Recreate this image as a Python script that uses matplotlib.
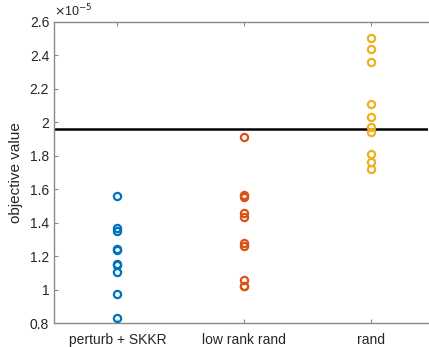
import numpy as np
import matplotlib.pyplot as plt

plt.rcParams['font.family'] = ['Liberation Sans', 'DejaVu Sans']

categories = ['perturb + SKKR', 'low rank rand', 'rand']
perturb_skkr = [1.559, 1.366, 1.352, 1.242, 1.236, 1.153, 1.150, 1.105, 0.975, 0.828]
low_rank_rand = [1.914, 1.565, 1.552, 1.458, 1.436, 1.276, 1.260, 1.057, 1.019, 1.019]
rand_vals = [2.502, 2.439, 2.361, 2.110, 2.034, 1.972, 1.942, 1.811, 1.761, 1.721]
reference_value = 1.96
yticks = [0.8, 1, 1.2, 1.4, 1.6, 1.8, 2, 2.2, 2.4, 2.6]
colors = ['#0072BD', '#D95319', '#EDB120']

fig = plt.figure(figsize=(4.29, 3.47), dpi=100)
ax = fig.add_axes([0.126, 0.069, 0.872, 0.8676])

for i, vals in enumerate([perturb_skkr, low_rank_rand, rand_vals]):
    ax.plot([i + 1] * len(vals), vals, 'o', mfc='none', mec=colors[i],
            mew=1.6, ms=5.2, zorder=3)

ax.axhline(reference_value, color='black', lw=1.8, zorder=2)

ax.set_xlim(0.5, 3.45)
ax.set_ylim(0.8, 2.6)
ax.set_xticks([1, 2, 3])
ax.set_xticklabels(categories)
ax.set_yticks(yticks)
ax.set_yticklabels(['%g' % t for t in yticks])
ax.set_ylabel('objective value', fontsize=11, color='#262626', labelpad=5)

spine_col = '#8a8a8a'
for s in ['left', 'bottom', 'top']:
    ax.spines[s].set_color(spine_col)
    ax.spines[s].set_linewidth(1.0)
ax.spines['right'].set_visible(False)
ax.tick_params(direction='in', length=3, width=0.8, color=spine_col,
               labelcolor='#262626', labelsize=10, top=True, right=False)
ax.tick_params(axis='x', pad=7)

ax.text(0.0, 1.008, r'$\times$10$^{-5}$', transform=ax.transAxes,
        fontsize=9, color='#262626', ha='left', va='bottom')

fig.savefig('out.png', dpi=100)
